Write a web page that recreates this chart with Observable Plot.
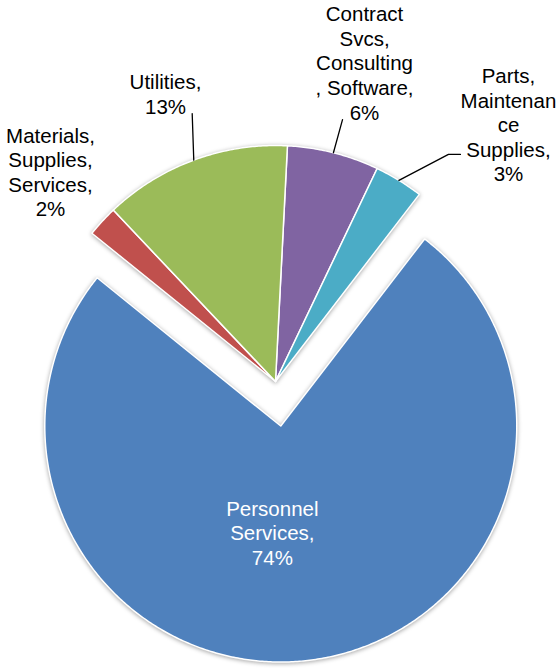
<!DOCTYPE html>
<html><head><meta charset="utf-8">
<script src="https://cdn.jsdelivr.net/npm/d3@7"></script>
<script src="https://cdn.jsdelivr.net/npm/@observablehq/plot@0.6"></script>
<style>
html,body{margin:0;padding:0;background:#fff;}
#chart svg{display:block;}
</style></head><body><div id="chart"></div>
<script>
// ---- data ----
const categories = ["Contract Svcs, Consulting, Software", "Parts, Maintenance Supplies", "Personnel Services", "Materials, Supplies, Services", "Utilities"];
const values = [6.2, 3.3, 74.4, 2.1, 12.7];
const labelNames = ["Contract\nSvcs,\nConsulting\n, Software,", "Parts,\nMaintenan\nce\nSupplies,", "Personnel\nServices,", "Materials,\nSupplies,\nServices,", "Utilities,"];
const colors = ["#8064A2", "#4BACC6", "#4F81BD", "#C0504D", "#9BBB59"];

// ---- layout (not data) ----
const W = 560, H = 668;
const R = 236;            // pixels per pie radius
const cx = 275, cy = 381; // pie centre in pixels
const startAngle = 2.9;   // degrees clockwise from 12 o'clock
const explode = [0, 0, 0.19, 0, 0];
const labelLayout = [
  {dA: 1.39, r: 1.403, leader: [[-22, 57]]},
  {dA: 10.65, r: 1.47, leader: [[-60, 30], [-48, 30]]},
  {dA: 11.3, r: 0.452, leader: null, inside: true},
  {dA: 0.27, r: 1.304, leader: null},
  {dA: -0.65, r: 1.306, leader: [[26.7, 20]]}
];

const rad = a => a * Math.PI / 180;
const polar = (a, r) => [Math.sin(rad(a)) * r, Math.cos(rad(a)) * r];

const total = d3.sum(values);
let acc = startAngle;
const slices = values.map((v, i) => {
  const a0 = acc, a1 = acc + v / total * 360;
  acc = a1;
  return {i, a0, a1, mid: (a0 + a1) / 2};
});

// slice polygons
const slicePts = [];
for (const s of slices) {
  const off = polar(s.mid, explode[s.i]);
  slicePts.push({cat: categories[s.i], x: off[0], y: off[1]});
  const n = Math.max(2, Math.ceil((s.a1 - s.a0) / 0.5));
  for (let k = 0; k <= n; k++) {
    const a = s.a0 + (s.a1 - s.a0) * k / n;
    const p = polar(a, 1);
    slicePts.push({cat: categories[s.i], x: p[0] + off[0], y: p[1] + off[1]});
  }
  slicePts.push({cat: categories[s.i], x: off[0], y: off[1]});
}

// labels & leaders
const labels = [];
const leaders = [];
for (const s of slices) {
  const L = labelLayout[s.i];
  const off = polar(s.mid, explode[s.i]);
  const p = polar(s.mid + L.dA, L.r);
  const lx = p[0] + off[0], ly = p[1] + off[1];
  labels.push({
    text: labelNames[s.i] + "\n" + Math.round(values[s.i]) + "%",
    x: lx, y: ly, inside: !!L.inside
  });
  if (L.leader) {
    const a = polar(s.mid, 1);
    leaders.push({k: s.i, x: a[0], y: a[1]});
    for (const [dx, dy] of L.leader) leaders.push({k: s.i, x: lx + dx / R, y: ly - dy / R});
  }
}

const font = "'Liberation Sans', Arial, Helvetica, sans-serif";
const chart = Plot.plot({
  width: W, height: H,
  margin: 0,
  style: {fontFamily: font, background: "#fff", overflow: "visible"},
  x: {domain: [-cx / R, (W - cx) / R], axis: null},
  y: {domain: [(cy - H) / R, cy / R], axis: null},
  color: {domain: categories, range: colors},
  marks: [
    Plot.line(slicePts, {x: "x", y: "y", z: "cat", fill: "cat", stroke: "#fff", strokeWidth: 1.5, strokeLinejoin: "round", curve: "linear"}),
    Plot.line(leaders, {x: "x", y: "y", z: "k", stroke: "#000", strokeWidth: 1.3, curve: "linear"}),
    Plot.text(labels.filter(d => !d.inside), {x: "x", y: "y", text: "text", fill: "#000", fontSize: 20.5, fontFamily: font, lineHeight: 1.2, textAnchor: "middle", lineAnchor: "middle"}),
    Plot.text(labels.filter(d => d.inside), {x: "x", y: "y", text: "text", fill: "#fff", fontSize: 20.5, fontFamily: font, lineHeight: 1.2, textAnchor: "middle", lineAnchor: "middle"})
  ]
});
const g = chart.querySelector('g[aria-label="line"]');
if (g) g.style.filter = "drop-shadow(0px 1px 2px rgba(0,0,0,0.35))";
document.getElementById("chart").append(chart);
</script></body></html>
